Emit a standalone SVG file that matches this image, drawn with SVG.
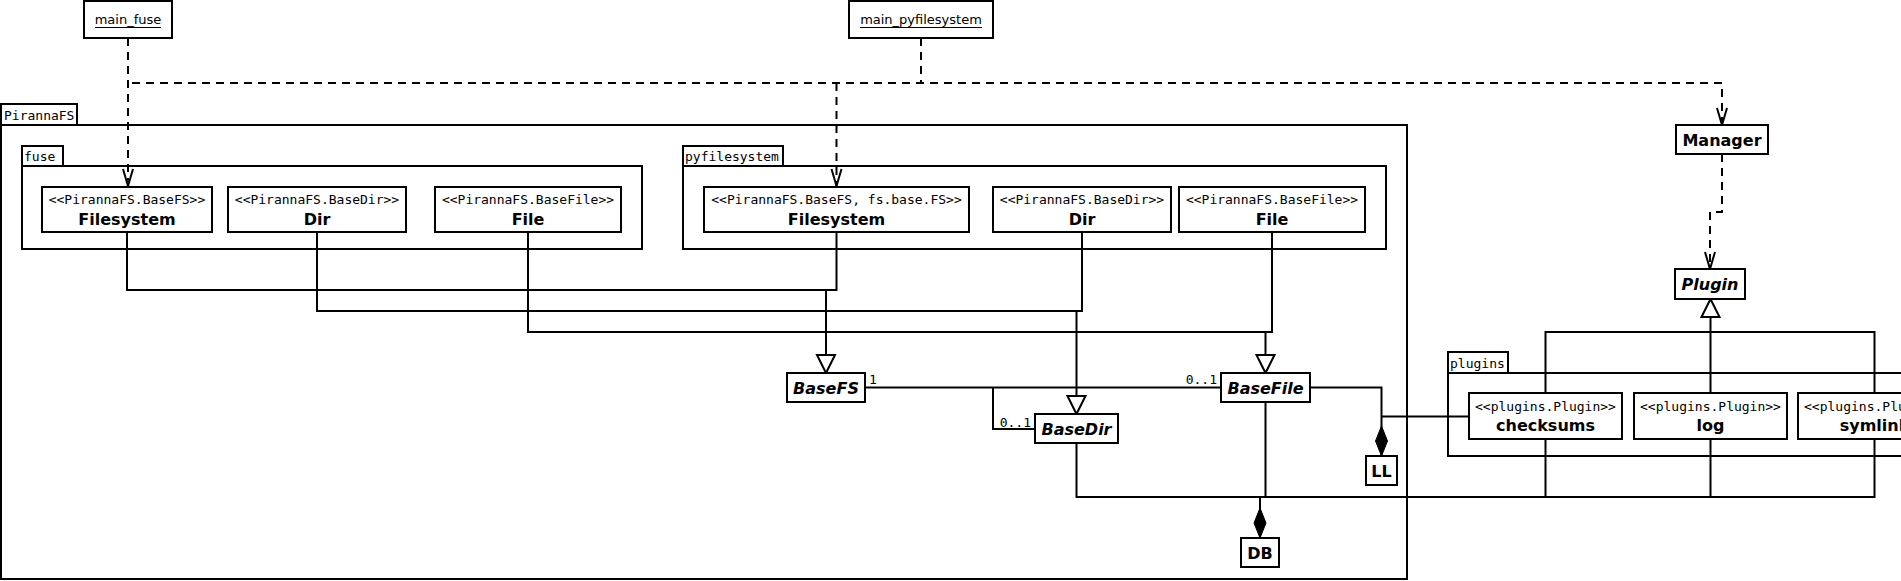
<svg xmlns="http://www.w3.org/2000/svg" width="1901" height="581" viewBox="0 0 1901 581">
<style>
.box{fill:#fff;stroke:#000;stroke-width:2}
.pkg{fill:none;stroke:#000;stroke-width:2}
.ln{fill:none;stroke:#000;stroke-width:2}
.dash{fill:none;stroke:#000;stroke-width:2;stroke-dasharray:8 6}
.mono{font-family:"DejaVu Sans Mono","Liberation Mono",monospace;font-size:13px;fill:#000}
.st{font-family:"DejaVu Sans Mono","Liberation Mono",monospace;font-size:13px;fill:#000;text-anchor:middle}
.nm{font-family:"DejaVu Sans","Liberation Sans",sans-serif;font-size:16px;font-weight:bold;fill:#000;text-anchor:middle}
.ab{font-family:"DejaVu Sans","Liberation Sans",sans-serif;font-size:16px;font-weight:bold;font-style:italic;fill:#000;text-anchor:middle}
.obj{font-family:"DejaVu Sans","Liberation Sans",sans-serif;font-size:13px;fill:#000;text-anchor:middle}
</style>
<defs>
<marker id="open" markerUnits="userSpaceOnUse" markerWidth="20" markerHeight="14" viewBox="-17 -7 20 14" refX="0" refY="0" orient="auto" overflow="visible">
<path d="M-17,-5 L0,0 L-17,5" fill="none" stroke="#000" stroke-width="2"/>
</marker>
<marker id="tri" markerUnits="userSpaceOnUse" markerWidth="22" markerHeight="22" viewBox="-20 -11 22 22" refX="0" refY="0" orient="auto" overflow="visible">
<path d="M0,0 L-18,-9 L-18,9 Z" fill="#fff" stroke="#000" stroke-width="2"/>
</marker>
<marker id="dia" markerUnits="userSpaceOnUse" markerWidth="32" markerHeight="14" viewBox="-31 -7 32 14" refX="0" refY="0" orient="auto" overflow="visible">
<path d="M0,0 L-15,-6 L-30,0 L-15,6 Z" fill="#000" stroke="#000" stroke-width="1"/>
</marker>
</defs>
<rect width="1901" height="581" fill="#fff"/>

<g id="pkg-PirannaFS">
<rect class="pkg" x="1" y="104" width="76" height="21"/>
<rect class="pkg" x="1" y="125" width="1406" height="454"/>
<text class="mono" x="4" y="120">PirannaFS</text>
</g>
<g id="pkg-fuse">
<rect class="pkg" x="22" y="146" width="41" height="20"/>
<rect class="pkg" x="22" y="166" width="620" height="83"/>
<text class="mono" x="24" y="161">fuse</text>
</g>
<g id="pkg-pyfilesystem">
<rect class="pkg" x="683" y="146" width="100" height="20"/>
<rect class="pkg" x="683" y="166" width="703" height="83"/>
<text class="mono" x="685" y="161">pyfilesystem</text>
</g>
<g id="pkg-plugins">
<rect class="pkg" x="1448" y="352" width="60" height="21"/>
<rect class="pkg" x="1448" y="373" width="520" height="83"/>
<text class="mono" x="1450" y="368">plugins</text>
</g>

<g id="connectors">
<path class="dash" d="M128,38 V186" marker-end="url(#open)"/>
<path class="dash" d="M132,83 H1722 V125" marker-end="url(#open)"/>
<path class="dash" d="M921,38 V83"/>
<path class="dash" d="M836.5,83 V186" marker-end="url(#open)"/>
<path class="dash" d="M1722,154 V212 H1710 V269" marker-end="url(#open)"/>

<path class="ln" d="M836.5,232 V290 H826"/>
<path class="ln" d="M127,232 V290 H826 V373" marker-end="url(#tri)"/>
<path class="ln" d="M1082,232 V311 H1076.5"/>
<path class="ln" d="M317,232 V311 H1076.5 V414" marker-end="url(#tri)"/>
<path class="ln" d="M1272,232 V332 H1265.5"/>
<path class="ln" d="M528,232 V332 H1265.5 V373" marker-end="url(#tri)"/>

<path class="ln" d="M1545.5,393 V332 H1710"/>
<path class="ln" d="M1874.5,393 V332 H1710"/>
<path class="ln" d="M1710.5,393 V299" marker-end="url(#tri)"/>

<path class="ln" d="M865,387.5 H1221"/>
<path class="ln" d="M993,387.5 V429 H1035"/>
<path class="ln" d="M1469,416.5 H1381.5"/>
<path class="ln" d="M1310,387.5 H1381.5 V456" marker-end="url(#dia)"/>

<path class="ln" d="M1076.5,443 V497 H1874.5 V439"/>
<path class="ln" d="M1265.5,402 V497"/>
<path class="ln" d="M1545.5,439 V497"/>
<path class="ln" d="M1710.5,439 V497"/>
<path class="ln" d="M1260,497 V538" marker-end="url(#dia)"/>

<text class="mono" x="869" y="384">1</text>
<text class="mono" x="1217" y="384" text-anchor="end">0..1</text>
<text class="mono" x="1031" y="427" text-anchor="end">0..1</text>
</g>

<g id="main_fuse">
<rect class="box" x="84" y="1" width="88" height="37"/>
<text class="obj" x="128" y="24">main_fuse</text>
<line x1="95" y1="27.5" x2="161" y2="27.5" stroke="#000" stroke-width="1"/>
</g>
<g id="main_pyfilesystem">
<rect class="box" x="849" y="1" width="144" height="37"/>
<text class="obj" x="921" y="24">main_pyfilesystem</text>
<line x1="860" y1="27.5" x2="982" y2="27.5" stroke="#000" stroke-width="1"/>
</g>

<g id="fuse-Filesystem">
<rect class="box" x="42" y="187" width="170" height="45"/>
<text class="st" x="127" y="204">&lt;&lt;PirannaFS.BaseFS&gt;&gt;</text>
<text class="nm" x="127" y="225">Filesystem</text>
</g>
<g id="fuse-Dir">
<rect class="box" x="228" y="187" width="178" height="45"/>
<text class="st" x="317" y="204">&lt;&lt;PirannaFS.BaseDir&gt;&gt;</text>
<text class="nm" x="317" y="225">Dir</text>
</g>
<g id="fuse-File">
<rect class="box" x="435" y="187" width="186" height="45"/>
<text class="st" x="528" y="204">&lt;&lt;PirannaFS.BaseFile&gt;&gt;</text>
<text class="nm" x="528" y="225">File</text>
</g>
<g id="pyfs-Filesystem">
<rect class="box" x="704" y="187" width="265" height="45"/>
<text class="st" x="836.5" y="204">&lt;&lt;PirannaFS.BaseFS, fs.base.FS&gt;&gt;</text>
<text class="nm" x="836.5" y="225">Filesystem</text>
</g>
<g id="pyfs-Dir">
<rect class="box" x="993" y="187" width="178" height="45"/>
<text class="st" x="1082" y="204">&lt;&lt;PirannaFS.BaseDir&gt;&gt;</text>
<text class="nm" x="1082" y="225">Dir</text>
</g>
<g id="pyfs-File">
<rect class="box" x="1179" y="187" width="186" height="45"/>
<text class="st" x="1272" y="204">&lt;&lt;PirannaFS.BaseFile&gt;&gt;</text>
<text class="nm" x="1272" y="225">File</text>
</g>

<g id="Manager">
<rect class="box" x="1676" y="125" width="92" height="29"/>
<text class="nm" x="1722" y="145.5">Manager</text>
</g>
<g id="Plugin">
<rect class="box" x="1675" y="269" width="70" height="30"/>
<text class="ab" x="1710" y="290">Plugin</text>
</g>

<g id="BaseFS">
<rect class="box" x="787" y="373" width="78" height="29"/>
<text class="ab" x="826" y="393.5">BaseFS</text>
</g>
<g id="BaseDir">
<rect class="box" x="1035" y="414" width="83" height="29"/>
<text class="ab" x="1076.5" y="434.5">BaseDir</text>
</g>
<g id="BaseFile">
<rect class="box" x="1221" y="373" width="89" height="29"/>
<text class="ab" x="1265.5" y="393.5">BaseFile</text>
</g>
<g id="LL">
<rect class="box" x="1366" y="456" width="31" height="29"/>
<text class="nm" x="1381.5" y="476.5">LL</text>
</g>
<g id="DB">
<rect class="box" x="1241" y="538" width="38" height="29"/>
<text class="nm" x="1260" y="558.5">DB</text>
</g>

<g id="checksums">
<rect class="box" x="1469" y="393" width="153" height="46"/>
<text class="st" x="1545.5" y="411">&lt;&lt;plugins.Plugin&gt;&gt;</text>
<text class="nm" x="1545.5" y="431">checksums</text>
</g>
<g id="log">
<rect class="box" x="1634" y="393" width="153" height="46"/>
<text class="st" x="1710.5" y="411">&lt;&lt;plugins.Plugin&gt;&gt;</text>
<text class="nm" x="1710.5" y="431">log</text>
</g>
<g id="symlink">
<rect class="box" x="1798" y="393" width="153" height="46"/>
<text class="st" x="1874.5" y="411">&lt;&lt;plugins.Plugin&gt;&gt;</text>
<text class="nm" x="1874.5" y="431">symlink</text>
</g>
</svg>
